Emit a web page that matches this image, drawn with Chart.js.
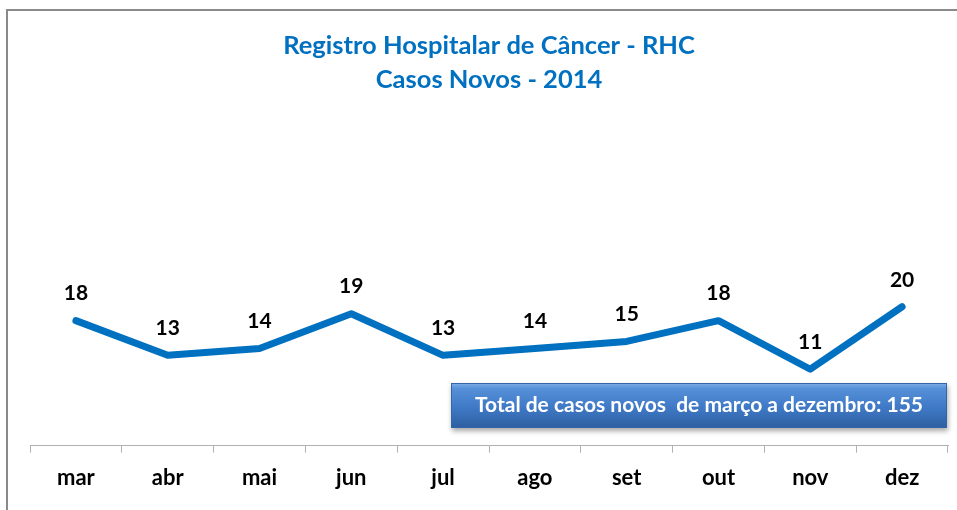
<!DOCTYPE html>
<html><head><meta charset="utf-8">
<script src="https://cdn.jsdelivr.net/npm/chart.js@4"></script>
<style>html,body{margin:0;padding:0;background:#fff;}#wrap{width:957px;height:510px;position:relative;}</style>
</head><body><div id="wrap"><canvas id="c" width="957" height="510"></canvas></div>
<script>
const months = ['mar','abr','mai','jun','jul','ago','set','out','nov','dez'];
const casos = [18,13,14,19,13,14,15,18,11,20];
const titleLines = ['Registro Hospitalar de Câncer - RHC','Casos Novos - 2014'];
const boxText = 'Total de casos novos  de março a dezembro: 155';
const FONT = 'Lato, Calibri, "Open Sans", sans-serif';

const frame = {
  id:'frame',
  beforeDraw(chart){
    const ctx = chart.ctx;
    ctx.save();
    ctx.fillStyle='#fff';ctx.fillRect(0,0,chart.width,chart.height);
    ctx.strokeStyle='#8a8a8a';ctx.lineWidth=2;
    ctx.beginPath();ctx.moveTo(7,515);ctx.lineTo(7,10);ctx.lineTo(960,10);ctx.stroke();
    ctx.restore();
  }
};
const labels = {
  id:'vlabels',
  afterDatasetsDraw(chart){
    const ctx = chart.ctx, meta = chart.getDatasetMeta(0);
    ctx.save();
    ctx.font = 'bold 21px '+FONT; ctx.fillStyle='#000';
    ctx.textAlign='center'; ctx.textBaseline='middle';
    meta.data.forEach((p,i)=>{ ctx.fillText(String(casos[i]), p.x, p.y-27); });
    ctx.restore();
  }
};
const box = {
  id:'totalbox',
  afterDraw(chart){
    const ctx = chart.ctx;
    const x=451,y=383,w=496,h=45;
    ctx.save();
    ctx.shadowColor='rgba(0,0,0,0.35)';ctx.shadowBlur=5;ctx.shadowOffsetX=1;ctx.shadowOffsetY=3;
    const g = ctx.createLinearGradient(0,y,0,y+h);
    g.addColorStop(0,'#80b0e8');g.addColorStop(0.12,'#5590d8');g.addColorStop(0.55,'#3f79c6');g.addColorStop(1,'#2d5fa0');
    ctx.fillStyle=g;ctx.fillRect(x,y,w,h);
    ctx.shadowColor='transparent';
    ctx.strokeStyle='#3465a8';ctx.lineWidth=1;ctx.strokeRect(x+0.5,y+0.5,w-1,h-1);
    ctx.fillStyle='#fff';ctx.font='bold 21px '+FONT;ctx.textAlign='center';ctx.textBaseline='middle';
    ctx.fillText(boxText, x+w/2, y+h/2);
    ctx.restore();
  }
};

new Chart(document.getElementById('c'),{
  type:'line',
  data:{labels:months,datasets:[{data:casos,borderColor:'#0070C0',borderWidth:7,pointRadius:0,tension:0,fill:false,borderCapStyle:'round',borderJoinStyle:'round'}]},
  options:{
    responsive:false,animation:false,
    layout:{padding:{left:30,right:9,top:0,bottom:7}},
    plugins:{
      legend:{display:false},tooltip:{enabled:false},
      title:{display:true,text:titleLines,color:'#0070C0',font:{family:FONT,size:25.5,weight:'bold',lineHeight:1.32},padding:{top:29,bottom:141}}
    },
    scales:{
      x:{offset:true,
        grid:{offset:true,drawOnChartArea:false,drawTicks:true,tickLength:7,color:'#b0b0b0'},
        border:{display:true,color:'#b0b0b0',width:1},
        ticks:{color:'#000',font:{family:FONT,size:22,weight:'bold'},padding:12}},
      y:{display:false,min:0,max:30}
    }
  },
  plugins:[frame,labels,box]
});
</script></body></html>
